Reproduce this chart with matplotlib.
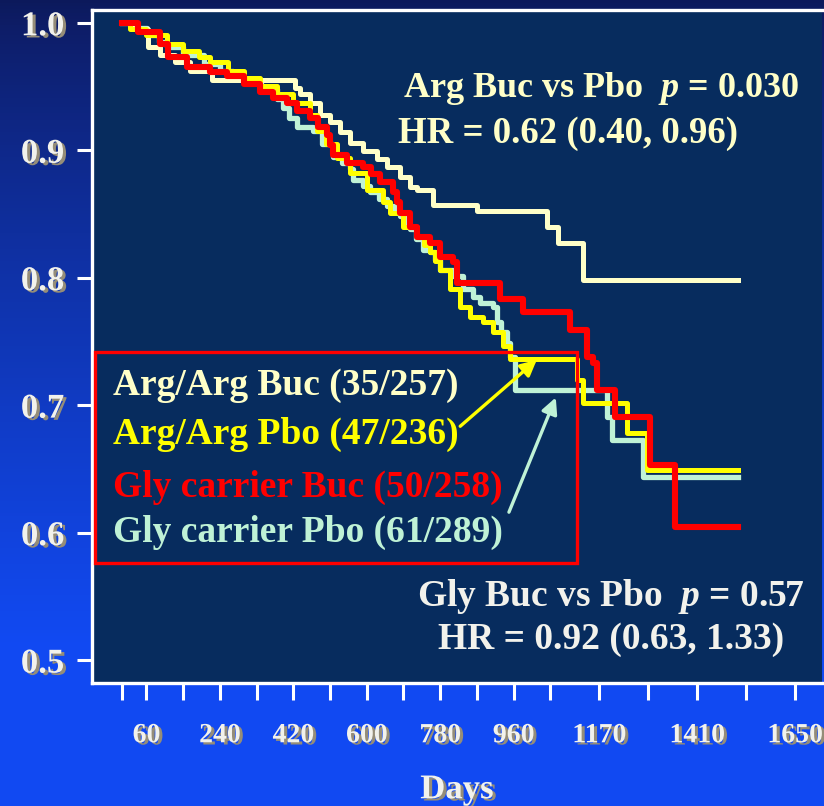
import matplotlib
matplotlib.use("Agg")
import matplotlib.pyplot as plt
import matplotlib.patheffects as pe
from matplotlib.patches import Rectangle
import numpy as np

# --- Data ---
arg_buc_days = [0, 32, 64, 93, 130, 167, 220, 424, 436, 461, 485, 510, 534, 559, 591,
                625, 650, 681, 706, 723, 762, 870, 1042, 1069, 1130, 1510]
arg_buc_surv = [1.000, 0.995, 0.981, 0.975, 0.969, 0.962, 0.955, 0.949, 0.944, 0.937,
                0.928, 0.922, 0.914, 0.906, 0.899, 0.893, 0.887, 0.879, 0.871, 0.869,
                0.857, 0.852, 0.840, 0.827, 0.798, 0.798]

arg_pbo_days = [0, 20, 60, 110, 150, 190, 216, 260, 300, 338, 380, 420, 461, 478, 500,
                527, 559, 600, 640, 657, 689, 723, 740, 755, 767, 779, 804, 828, 853,
                885, 909, 934, 951, 1115, 1130, 1238, 1287, 1510]
arg_pbo_surv = [1.000, 0.995, 0.990, 0.983, 0.978, 0.973, 0.969, 0.962, 0.957, 0.950,
                0.944, 0.937, 0.928, 0.915, 0.905, 0.894, 0.882, 0.869, 0.859, 0.851,
                0.840, 0.832, 0.826, 0.820, 0.813, 0.806, 0.791, 0.777, 0.769, 0.765,
                0.757, 0.746, 0.736, 0.720, 0.702, 0.678, 0.649, 0.649]

gly_buc_days = [0, 40, 93, 113, 159, 216, 257, 300, 338, 370, 404, 430, 461, 480, 502,
                510, 517, 551, 591, 610, 632, 664, 674, 681, 706, 723, 755, 779, 811,
                821, 926, 983, 1098, 1140, 1154, 1164, 1208, 1294, 1355, 1510]
gly_buc_surv = [1.000, 0.993, 0.983, 0.973, 0.965, 0.961, 0.958, 0.952, 0.946, 0.941,
                0.937, 0.931, 0.925, 0.918, 0.912, 0.904, 0.896, 0.890, 0.887, 0.881,
                0.875, 0.867, 0.859, 0.851, 0.840, 0.832, 0.827, 0.816, 0.812, 0.796,
                0.783, 0.773, 0.759, 0.738, 0.733, 0.712, 0.691, 0.653, 0.604, 0.604]

gly_pbo_days = [0, 30, 61, 90, 110, 150, 200, 240, 272, 297, 340, 380, 395, 410, 429,
                468, 490, 517, 540, 559, 566, 590, 608, 630, 650, 668, 681, 695, 706,
                720, 738, 755, 767, 779, 811, 836, 860, 877, 909, 919, 930, 944, 952,
                963, 1189, 1201, 1277, 1510]
gly_pbo_surv = [1.000, 0.996, 0.990, 0.985, 0.981, 0.975, 0.968, 0.962, 0.958, 0.955,
                0.948, 0.940, 0.933, 0.925, 0.918, 0.915, 0.905, 0.895, 0.890, 0.885,
                0.877, 0.872, 0.867, 0.862, 0.856, 0.852, 0.848, 0.842, 0.838, 0.830,
                0.822, 0.820, 0.814, 0.806, 0.801, 0.791, 0.785, 0.780, 0.777, 0.765,
                0.757, 0.749, 0.738, 0.712, 0.691, 0.673, 0.644, 0.644]

legend_labels = ["Arg/Arg Buc (35/257)", "Arg/Arg Pbo (47/236)",
                 "Gly carrier Buc (50/258)", "Gly carrier Pbo (61/289)"]

x_ticks = [0, 60, 150, 240, 330, 420, 510, 600, 690, 780, 870, 960, 1050,
           1170, 1290, 1410, 1530, 1650]
x_labeled = [60, 240, 420, 600, 780, 960, 1170, 1410, 1650]
y_ticks = [0.5, 0.6, 0.7, 0.8, 0.9, 1.0]

# --- Style ---
CREAM = "#FFFFC8"
YELLOW = "#FFFF00"
RED = "#FF0000"
MINT = "#BFF2D6"
NAVY = "#072C5E"
TXT = "#F2F2EC"

plt.rcParams["font.family"] = ["Liberation Serif", "DejaVu Serif"]
plt.rcParams["font.weight"] = "bold"
plt.rcParams["axes.labelweight"] = "bold"
plt.rcParams["mathtext.fontset"] = "custom"
plt.rcParams["mathtext.it"] = "Liberation Serif:italic"
plt.rcParams["mathtext.rm"] = "Liberation Serif:bold"

fig = plt.figure(figsize=(8.24, 8.06), dpi=100)

# blue gradient background
bg = fig.add_axes([0, 0, 1, 1], zorder=-10)
t = np.linspace(0, 1, 256)[:, None]
top = np.array([0.05, 0.10, 0.36])
bot = np.array([0.07, 0.29, 0.95])
mix = np.clip(t / 0.8, 0, 1) ** 0.8
grad = top + (bot - top) * mix[..., None]
grad = np.repeat(grad, 2, axis=1)
bg.imshow(grad, aspect="auto", extent=[0, 1, 0, 1], origin="upper")
bg.axis("off")

ax = fig.add_axes([92 / 824, 123 / 806, 730 / 824, 673 / 806])
ax.set_facecolor(NAVY)

ax.plot(gly_pbo_days, gly_pbo_surv, drawstyle="steps-post", color=MINT, lw=3.8)
ax.plot(arg_buc_days, arg_buc_surv, drawstyle="steps-post", color=CREAM, lw=3.6)
ax.plot(arg_pbo_days, arg_pbo_surv, drawstyle="steps-post", color=YELLOW, lw=3.6)
ax.plot(gly_buc_days, gly_buc_surv, drawstyle="steps-post", color=RED, lw=4.4)

ax.set_xlim(-73.5, 1716)
ax.set_ylim(0.482, 1.010)

ax.set_xticks(x_ticks)
ax.set_xticklabels([str(v) if v in x_labeled else "" for v in x_ticks])
ax.set_yticks(y_ticks)
ax.set_yticklabels([f"{v:.1f}" for v in y_ticks])

ax.tick_params(axis="x", direction="out", length=12, width=2.2, color="white",
               labelcolor=TXT, labelsize=20, pad=17)
ax.tick_params(axis="y", direction="out", length=11, width=2.2, color="white",
               labelcolor=TXT, labelsize=25, pad=9)

for side in ["left", "top", "bottom"]:
    ax.spines[side].set_color("white")
    ax.spines[side].set_linewidth(2.4)
ax.spines["right"].set_visible(False)

shadow = [pe.withSimplePatchShadow(offset=(2.2, -1.6), shadow_rgbFace="#958d78", alpha=1)]
for lbl in ax.get_xticklabels() + ax.get_yticklabels():
    lbl.set_path_effects(shadow)

xl = ax.set_xlabel("Days", color=TXT, fontsize=25, fontweight="bold", labelpad=18)
xl.set_path_effects(shadow)

# legend box
ax.add_patch(Rectangle((0.004, 0.178), 0.660, 0.3135, transform=ax.transAxes,
                       fill=False, edgecolor=RED, lw=2.4, zorder=5))
legend_colors = [CREAM, YELLOW, RED, MINT]
legend_y = [0.442, 0.370, 0.290, 0.223]
for lab, col, yy in zip(legend_labels, legend_colors, legend_y):
    ax.text(0.029, yy, lab, transform=ax.transAxes, color=col, fontsize=27,
            va="center", ha="left", zorder=6)

# arrows from legend to curves
ax.annotate("", xy=(1022, 0.737), xytext=(824, 0.682),
            arrowprops=dict(arrowstyle="-|>", color=YELLOW, lw=2.4, mutation_scale=24),
            zorder=6)
ax.annotate("", xy=(1066, 0.708), xytext=(946, 0.614),
            arrowprops=dict(arrowstyle="-|>", color=MINT, lw=2.4, mutation_scale=24),
            zorder=6)

# statistics
ax.text(0.426, 0.884, "Arg Buc vs Pbo  $p$ = 0.030", transform=ax.transAxes,
        color=CREAM, fontsize=26, va="center", ha="left")
ax.text(0.419, 0.817, "HR = 0.62 (0.40, 0.96)", transform=ax.transAxes,
        color=CREAM, fontsize=26.5, va="center", ha="left")
ax.text(0.711, 0.128, "Gly Buc vs Pbo  $p$ = 0.57", transform=ax.transAxes,
        color=TXT, fontsize=27, va="center", ha="center")
ax.text(0.711, 0.064, "HR = 0.92 (0.63, 1.33)", transform=ax.transAxes,
        color=TXT, fontsize=27, va="center", ha="center")

fig.savefig("out.png", dpi=100, facecolor=fig.get_facecolor())
